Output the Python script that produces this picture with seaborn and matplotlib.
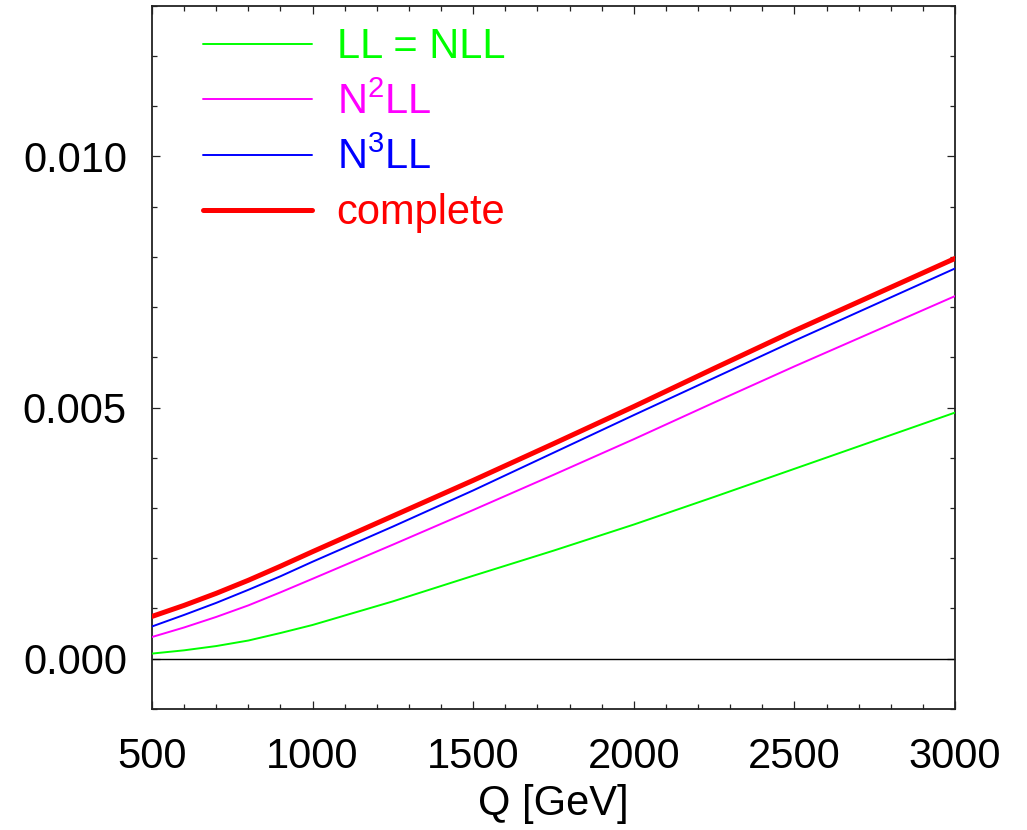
import numpy as np
import pandas as pd
import matplotlib
matplotlib.use("Agg")
import matplotlib.pyplot as plt
import seaborn as sns
from matplotlib.ticker import MultipleLocator, FormatStrFormatter

# ---- data ----
Q = [500, 600, 700, 800, 900, 1000, 1250, 1500, 1750, 2000, 2250, 2500, 2750, 3000]
ll_nll   = [0.10e-3, 0.165e-3, 0.25e-3, 0.36e-3, 0.51e-3, 0.67e-3, 1.14e-3, 1.65e-3, 2.15e-3,
            2.67e-3, 3.22e-3, 3.78e-3, 4.34e-3, 4.90e-3]
n2ll     = [0.43e-3, 0.62e-3, 0.83e-3, 1.06e-3, 1.32e-3, 1.59e-3, 2.27e-3, 2.96e-3, 3.66e-3,
            4.37e-3, 5.10e-3, 5.82e-3, 6.52e-3, 7.22e-3]
n3ll     = [0.64e-3, 0.87e-3, 1.11e-3, 1.37e-3, 1.64e-3, 1.93e-3, 2.63e-3, 3.35e-3, 4.10e-3,
            4.85e-3, 5.59e-3, 6.33e-3, 7.05e-3, 7.77e-3]
complete = [0.84e-3, 1.06e-3, 1.30e-3, 1.56e-3, 1.84e-3, 2.13e-3, 2.84e-3, 3.55e-3, 4.28e-3,
            5.02e-3, 5.78e-3, 6.53e-3, 7.25e-3, 7.97e-3]

labels = ["LL = NLL", "N$^{2}$LL", "N$^{3}$LL", "complete"]
colors = ["#00ff00", "#ff00ff", "#0000ff", "#ff0000"]
widths = [1.4, 1.4, 1.4, 3.6]

df = pd.DataFrame({
    "Q": Q * 4,
    "value": ll_nll + n2ll + n3ll + complete,
    "series": sum([[l] * len(Q) for l in labels], []),
})

sns.set_theme(style="white")
plt.rcParams["font.family"] = ["Liberation Sans", "DejaVu Sans"]
plt.rcParams["mathtext.fontset"] = "custom"
plt.rcParams["mathtext.rm"] = "Liberation Sans"
plt.rcParams["mathtext.default"] = "regular"
plt.rcParams["text.color"] = "black"
plt.rcParams["axes.labelcolor"] = "black"
plt.rcParams["xtick.color"] = "black"
plt.rcParams["ytick.color"] = "black"

FS = 30

fig = plt.figure(figsize=(10.27, 8.30), dpi=100)
ax = fig.add_axes([0.148, 0.146, 0.782, 0.847])

ax.axhline(0.0, color="black", lw=1.0, zorder=1)

for lab, col, lw in zip(labels, colors, widths):
    sub = df[df["series"] == lab]
    sns.lineplot(data=sub, x="Q", y="value", color=col, lw=lw, ax=ax, label=lab,
                 estimator=None, sort=True, zorder=3)

ax.set_xlim(500, 3000)
ax.set_ylim(-0.001, 0.013)
ax.xaxis.set_major_locator(MultipleLocator(500))
ax.xaxis.set_minor_locator(MultipleLocator(100))
ax.yaxis.set_major_locator(MultipleLocator(0.005))
ax.yaxis.set_minor_locator(MultipleLocator(0.001))
ax.yaxis.set_major_formatter(FormatStrFormatter("%.3f"))

ax.tick_params(which="both", direction="in", top=True, right=True,
               bottom=True, left=True, color="#222222", width=0.9,
               labelcolor="black")
ax.tick_params(which="major", length=6, labelsize=FS, pad=18)
ax.tick_params(axis="x", which="major", pad=20)
ax.tick_params(which="minor", length=3.5)

for s in ax.spines.values():
    s.set_color("#222222")
    s.set_linewidth(1.3)

ax.set_xlabel("Q [GeV]", fontsize=FS, labelpad=5, color="black")
ax.set_ylabel("")

leg = ax.legend(loc="upper left", bbox_to_anchor=(0.043, 0.993), frameon=False,
                fontsize=FS, handlelength=2.6, handletextpad=0.6,
                labelspacing=0.36, borderaxespad=0.0)
for text, col in zip(leg.get_texts(), colors):
    text.set_color(col)

fig.savefig("out.png", dpi=100, facecolor="white")
